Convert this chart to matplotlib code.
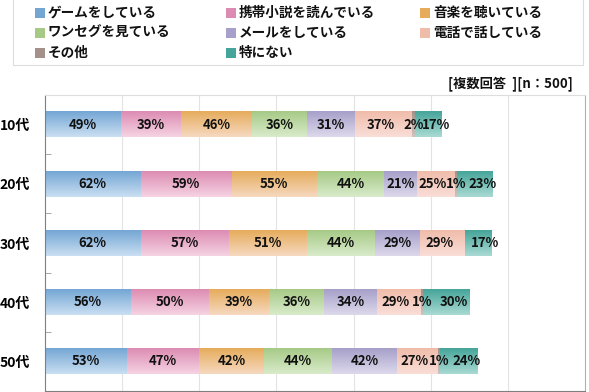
import numpy as np
import matplotlib.pyplot as plt
from matplotlib.patches import Rectangle
from matplotlib.colors import LinearSegmentedColormap

plt.rcParams['font.family'] = ['Noto Sans CJK JP', 'DejaVu Sans']

ages = ["10代", "20代", "30代", "40代", "50代"]
items = ["ゲームをしている", "携帯小説を読んでいる", "音楽を聴いている",
         "ワンセグを見ている", "メールをしている", "電話で話している",
         "その他", "特にない"]

game = [49, 62, 62, 56, 53]
novel = [39, 59, 57, 50, 47]
music = [46, 55, 51, 39, 42]
oneseg = [36, 44, 44, 36, 44]
mail = [31, 21, 29, 34, 42]
phone = [37, 25, 29, 29, 27]
other = [2, 1, 0, 1, 1]
nothing = [17, 23, 17, 30, 24]

series = [game, novel, music, oneseg, mail, phone, other, nothing]

# (top colour, bottom colour) for the gradient fill
colors = [("#74a6d4", "#cadff2"),
          ("#dc8cb2", "#f6d3e3"),
          ("#e6ac5c", "#f6d9c0"),
          ("#a6ca86", "#d9ebcb"),
          ("#a7a0ca", "#ddd9eb"),
          ("#f0bcaa", "#f9ded8"),
          ("#a3918a", "#cfc3bf"),
          ("#46a59a", "#a9dad3")]

# small sideways nudge of the labels near the thin "その他" segment
nudge = [0, 0, 0, 0, 0, -2, 0, 5]

W, H = 589, 392
fig = plt.figure(figsize=(W / 100, H / 100), dpi=100)
ax = fig.add_axes([45 / W, 1 / H, 540 / W, 296 / H])

grad = np.linspace(0, 1, 64).reshape(-1, 1)
bar_h = 0.43
y = np.arange(len(ages))
left = np.zeros(len(ages))

for k, (vals, (c1, c2)) in enumerate(zip(series, colors)):
    cmap = LinearSegmentedColormap.from_list("g", [c1, c2])
    for i, v in enumerate(vals):
        if v == 0:
            continue
        ax.imshow(grad, cmap=cmap, aspect="auto", interpolation="bilinear",
                  extent=(left[i], left[i] + v, y[i] + bar_h / 2, y[i] - bar_h / 2),
                  zorder=2)
        ax.text(left[i] + v / 2 + nudge[k], y[i], f"{v}%", ha="center", va="center",
                fontsize=9.5, fontweight="bold", color="#111111", zorder=3)
    left += np.array(vals)

ax.set_xlim(0, 350)
ax.set_ylim(4.5, -0.5)
ax.set_xticks(np.arange(50, 350, 50))
ax.tick_params(axis="x", length=0, labelbottom=False)
ax.grid(axis="x", color="#e3e3e3", lw=0.8, zorder=0)
ax.set_yticks(y)
ax.set_yticklabels(ages, fontsize=10, fontweight="bold")
ax.tick_params(axis="y", length=0, pad=11)
ax.set_yticks(np.arange(0.5, 4.5, 1), minor=True)
ax.tick_params(axis="y", which="minor", direction="in", length=4, color="#999999")

for s in ["left", "bottom"]:
    ax.spines[s].set_color("#7f7f7f")
ax.spines["right"].set_color("#b0b0b0")
ax.spines["top"].set_color("#dddddd")

# legend drawn by hand, three columns, row-major like the original
fig.patches.append(Rectangle((13 / W, 1 - 65 / H), 570 / W, 70 / H,
                             transform=fig.transFigure, facecolor="white",
                             edgecolor="#dddddd", lw=0.8))
col_x = [35, 226, 420]
row_y = [13, 33, 53]
for k, lab in enumerate(items):
    cx = col_x[k % 3]
    ry = row_y[k // 3]
    fig.patches.append(Rectangle((cx / W, 1 - (ry + 5) / H), 10 / W, 10 / H,
                                 transform=fig.transFigure,
                                 facecolor=colors[k][0], edgecolor="none"))
    fig.text((cx + 13) / W, 1 - ry / H, lab, ha="left", va="center",
             fontsize=9.8, fontweight="bold", color="#111111")

fig.text(573 / W, 1 - 84 / H, "[複数回答  ][n：500]", ha="right", va="center",
         fontsize=9.5, fontweight="bold", color="#111111")

fig.savefig("out.png", dpi=100)
